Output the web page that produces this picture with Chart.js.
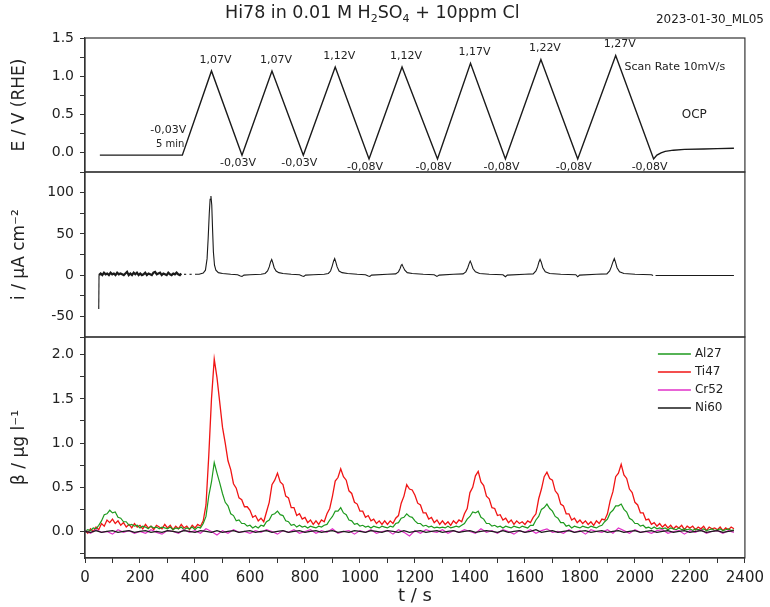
<!DOCTYPE html>
<html>
<head>
<meta charset="utf-8">
<title>Hi78 in 0.01 M H2SO4 + 10ppm Cl</title>
<script src="https://cdn.jsdelivr.net/npm/chart.js@4.4.1/dist/chart.umd.min.js"></script>
<style>
  html, body { margin: 0; padding: 0; background: #fff; }
  #wrap { position: relative; width: 770px; height: 607px; overflow: hidden; }
  #chart { position: absolute; left: 0; top: 0; }
  #title { position: absolute; left: 225px; top: 4px; font: 17.5px "DejaVu Sans", sans-serif; line-height: 1; white-space: nowrap; color: #222; }
  #title .sub { font-size: 11px; position: relative; top: 4px; }
  #stamp { position: absolute; right: 6px; top: 12px; font: 12px "DejaVu Sans", sans-serif; color: #222; white-space: nowrap; }
</style>
</head>
<body>
<div id="wrap">
  <canvas id="chart" width="770" height="607"></canvas>
  <div id="title">Hi78 in 0.01 M H<span class="sub">2</span>SO<span class="sub">4</span> + 10ppm Cl</div>
  <div id="stamp">2023-01-30_ML05</div>
</div>
<script>
//---------------------------------------------
// DATA
//---------------------------------------------
// potential programme, E / V (RHE)
const tE = [54, 354, 460, 571, 680, 794, 910, 1033, 1153, 1282, 1402, 1529, 1658, 1792, 1930, 2068,
            2080, 2095, 2110, 2140, 2180, 2250, 2300, 2360];
const potential = [-0.03, -0.03, 1.07, -0.03, 1.07, -0.03, 1.12, -0.08, 1.12, -0.08, 1.17, -0.08, 1.22, -0.08, 1.27, -0.08,
                   -0.03, 0.0, 0.02, 0.035, 0.045, 0.05, 0.055, 0.06];

// current density, i / uA cm-2 (null = gap in the record)
const tCur = [50, 51, 57, 63, 69, 75, 81, 87, 93, 99, 105, 111, 117, 123, 129, 135, 141, 147, 153, 159,
              165, 171, 177, 183, 189, 195, 201, 207, 213, 219, 225, 231, 237, 243, 249, 255, 261, 267, 273, 279,
              285, 291, 297, 303, 309, 315, 321, 327, 333, 339, 345, 350, 353,
              360, 368, 372, 380, 388, 392, 400, 415, 430, 438, 444, 448, 452, 455, 458, 461, 464, 467, 471, 476, 485,
              500, 530, 555, 565, 571, 578, 600, 640, 655, 664, 670, 675, 679, 683, 688, 695, 705, 720, 750, 780,
              790, 796, 802, 830, 870, 885, 893, 899, 904, 908, 912, 917, 924, 935, 955, 990, 1020, 1030, 1036, 1042,
              1100, 1130, 1140, 1146, 1150, 1153, 1157, 1163, 1172, 1190, 1230, 1270, 1280, 1288,
              1340, 1375, 1385, 1392, 1397, 1401, 1405, 1411, 1420, 1435, 1470, 1520, 1529, 1536,
              1600, 1630, 1640, 1646, 1651, 1655, 1659, 1665, 1674, 1690, 1730, 1785, 1792, 1799,
              1860, 1898, 1908, 1914, 1920, 1925, 1929, 1935, 1944, 1960, 2000, 2060, 2066, 2070, 2075, 2200, 2360];
const current = [-41, 0, 2, 0, 3, 1, 2, 0, 3, 1, 2, 0, 3, 1, 2, 1, 0, 2, 4, 0,
                 2, 0, 3, 1, 3, 0, 2, 0, 1, 3, 0, 2, 1, 0, 3, 4, 1, 2, 3, 0,
                 2, 1, 0, 3, 1, 0, 2, 1, 3, 1, 0, 2, null,
                 1, 1, null, 1, 1, null, 1, 1, 2.5, 6, 20, 45, 75, 92, 96, 85, 55, 28, 12, 6, 3,
                 2, 1, 0.5, -1, -1.5, 0, 0.5, 1, 2, 5, 10, 16, 19, 15, 9, 5, 3, 2, 1, 0.5,
                 -1, -1.5, 0, 0.5, 1, 2, 5, 11, 17, 20, 16, 10, 5, 3, 2, 1, 0.5, -1, -1.5, 0,
                 1, 1.5, 4, 8, 12, 13, 10, 6, 3, 2, 1, 0.5, -1.5, 0,
                 1, 1.5, 4, 9, 14, 17, 14, 8, 4, 2, 1, 0.5, -2, 0,
                 1, 1.5, 5, 10, 16, 19, 16, 9, 4, 2, 1, 0.5, -2, 0,
                 1, 1.5, 5, 10, 16, 20, 16, 9, 4, 2, 1, 0.5, -0.5, null, -0.5, -0.5, -0.5];

// ICP-MS concentrations, beta / ug l-1
const tIcp10 = [0, 10, 20, 30, 40, 50, 60, 70, 80, 90,
  100, 110, 120, 130, 140, 150, 160, 170, 180, 190,
  200, 210, 220, 230, 240, 250, 260, 270, 280, 290,
  300, 310, 320, 330, 340, 350, 360, 370, 380, 390,
  400, 410, 420, 430, 440, 450, 460, 470, 480, 490,
  500, 510, 520, 530, 540, 550, 560, 570, 580, 590,
  600, 610, 620, 630, 640, 650, 660, 670, 680, 690,
  700, 710, 720, 730, 740, 750, 760, 770, 780, 790,
  800, 810, 820, 830, 840, 850, 860, 870, 880, 890,
  900, 910, 920, 930, 940, 950, 960, 970, 980, 990,
  1000, 1010, 1020, 1030, 1040, 1050, 1060, 1070, 1080, 1090,
  1100, 1110, 1120, 1130, 1140, 1150, 1160, 1170, 1180, 1190,
  1200, 1210, 1220, 1230, 1240, 1250, 1260, 1270, 1280, 1290,
  1300, 1310, 1320, 1330, 1340, 1350, 1360, 1370, 1380, 1390,
  1400, 1410, 1420, 1430, 1440, 1450, 1460, 1470, 1480, 1490,
  1500, 1510, 1520, 1530, 1540, 1550, 1560, 1570, 1580, 1590,
  1600, 1610, 1620, 1630, 1640, 1650, 1660, 1670, 1680, 1690,
  1700, 1710, 1720, 1730, 1740, 1750, 1760, 1770, 1780, 1790,
  1800, 1810, 1820, 1830, 1840, 1850, 1860, 1870, 1880, 1890,
  1900, 1910, 1920, 1930, 1940, 1950, 1960, 1970, 1980, 1990,
  2000, 2010, 2020, 2030, 2040, 2050, 2060, 2070, 2080, 2090,
  2100, 2110, 2120, 2130, 2140, 2150, 2160, 2170, 2180, 2190,
  2200, 2210, 2220, 2230, 2240, 2250, 2260, 2270, 2280, 2290,
  2300, 2310, 2320, 2330, 2340, 2350, 2360];

const ti47 = [0.01, -0.02, 0.03, 0.0, 0.05, 0.02, 0.09, 0.06, 0.13, 0.1,
  0.14, 0.09, 0.12, 0.07, 0.1, 0.05, 0.08, 0.04, 0.09, 0.05,
  0.07, 0.03, 0.08, 0.04, 0.06, 0.02, 0.07, 0.05, 0.03, 0.08,
  0.04, 0.07, 0.02, 0.06, 0.03, 0.08, 0.04, 0.06, 0.02, 0.07,
  0.04, 0.08, 0.06, 0.12, 0.3, 0.85, 1.5, 1.95, 1.74, 1.46,
  1.18, 1.0, 0.8, 0.7, 0.54, 0.49, 0.38, 0.36, 0.28, 0.28,
  0.24, 0.16, 0.18, 0.12, 0.15, 0.11, 0.22, 0.33, 0.53, 0.58,
  0.66, 0.56, 0.53, 0.4, 0.38, 0.27, 0.27, 0.18, 0.2, 0.14,
  0.16, 0.1, 0.13, 0.08, 0.12, 0.08, 0.13, 0.11, 0.2, 0.26,
  0.4, 0.57, 0.61, 0.71, 0.62, 0.58, 0.46, 0.43, 0.33, 0.31,
  0.23, 0.23, 0.16, 0.18, 0.12, 0.14, 0.09, 0.12, 0.08, 0.12,
  0.08, 0.12, 0.09, 0.15, 0.18, 0.32, 0.4, 0.53, 0.48, 0.47,
  0.41, 0.32, 0.3, 0.21, 0.21, 0.14, 0.16, 0.1, 0.13, 0.08,
  0.12, 0.08, 0.11, 0.07, 0.12, 0.09, 0.13, 0.11, 0.2, 0.26,
  0.44, 0.5, 0.63, 0.68, 0.56, 0.52, 0.4, 0.37, 0.27, 0.26,
  0.18, 0.19, 0.13, 0.15, 0.1, 0.13, 0.08, 0.12, 0.09, 0.11,
  0.08, 0.12, 0.1, 0.16, 0.2, 0.37, 0.48, 0.62, 0.67, 0.6,
  0.58, 0.46, 0.42, 0.31, 0.29, 0.2, 0.2, 0.13, 0.15, 0.1,
  0.13, 0.09, 0.12, 0.08, 0.11, 0.07, 0.12, 0.09, 0.14, 0.13,
  0.2, 0.35, 0.45, 0.62, 0.66, 0.76, 0.64, 0.6, 0.48, 0.44,
  0.33, 0.3, 0.21, 0.21, 0.13, 0.14, 0.08, 0.1, 0.06, 0.09,
  0.05, 0.08, 0.04, 0.07, 0.03, 0.06, 0.04, 0.07, 0.02, 0.06,
  0.04, 0.06, 0.02, 0.05, 0.03, 0.06, 0.01, 0.05, 0.03, 0.04,
  0.02, 0.05, 0.01, 0.04, 0.02, 0.05, 0.03];

const al27 = [0.0, 0.02, 0.01, 0.04, 0.03, 0.07, 0.12, 0.19, 0.2, 0.24,
  0.21, 0.22, 0.16, 0.15, 0.11, 0.11, 0.07, 0.08, 0.06, 0.07,
  0.04, 0.06, 0.05, 0.03, 0.06, 0.04, 0.05, 0.03, 0.05, 0.04,
  0.03, 0.05, 0.02, 0.04, 0.03, 0.05, 0.02, 0.04, 0.03, 0.05,
  0.02, 0.05, 0.04, 0.09, 0.17, 0.4, 0.56, 0.78, 0.66, 0.55,
  0.43, 0.33, 0.29, 0.2, 0.18, 0.12, 0.13, 0.09, 0.09, 0.06,
  0.07, 0.04, 0.06, 0.04, 0.07, 0.06, 0.11, 0.13, 0.19, 0.2,
  0.23, 0.19, 0.18, 0.12, 0.11, 0.07, 0.08, 0.05, 0.07, 0.05,
  0.06, 0.04, 0.06, 0.05, 0.04, 0.06, 0.05, 0.07, 0.08, 0.13,
  0.17, 0.23, 0.23, 0.27, 0.21, 0.19, 0.13, 0.12, 0.08, 0.09,
  0.06, 0.07, 0.05, 0.06, 0.04, 0.06, 0.05, 0.04, 0.06, 0.05,
  0.04, 0.06, 0.05, 0.09, 0.1, 0.15, 0.16, 0.2, 0.17, 0.16,
  0.12, 0.09, 0.09, 0.06, 0.07, 0.05, 0.06, 0.04, 0.05, 0.04,
  0.05, 0.04, 0.06, 0.04, 0.05, 0.06, 0.05, 0.07, 0.09, 0.14,
  0.17, 0.22, 0.21, 0.23, 0.16, 0.14, 0.09, 0.09, 0.06, 0.07,
  0.05, 0.06, 0.04, 0.06, 0.05, 0.04, 0.06, 0.05, 0.04, 0.06,
  0.05, 0.04, 0.07, 0.07, 0.13, 0.17, 0.25, 0.27, 0.31, 0.26,
  0.23, 0.17, 0.15, 0.1, 0.1, 0.06, 0.07, 0.04, 0.06, 0.05,
  0.04, 0.06, 0.05, 0.04, 0.06, 0.05, 0.04, 0.06, 0.07, 0.11,
  0.14, 0.21, 0.24, 0.29, 0.29, 0.31, 0.25, 0.22, 0.15, 0.13,
  0.09, 0.09, 0.06, 0.07, 0.04, 0.05, 0.03, 0.05, 0.03, 0.04,
  0.03, 0.04, 0.02, 0.04, 0.03, 0.02, 0.04, 0.02, 0.03, 0.02,
  0.03, 0.01, 0.03, 0.02, 0.02, 0.03, 0.01, 0.02, 0.03, 0.01,
  0.02, 0.03, 0.01, 0.02, 0.03, 0.01, 0.02];

const tIcp20 = [0, 20, 40, 60, 80, 100, 120, 140, 160, 180,
  200, 220, 240, 260, 280, 300, 320, 340, 360, 380,
  400, 420, 440, 460, 480, 500, 520, 540, 560, 580,
  600, 620, 640, 660, 680, 700, 720, 740, 760, 780,
  800, 820, 840, 860, 880, 900, 920, 940, 960, 980,
  1000, 1020, 1040, 1060, 1080, 1100, 1120, 1140, 1160, 1180,
  1200, 1220, 1240, 1260, 1280, 1300, 1320, 1340, 1360, 1380,
  1400, 1420, 1440, 1460, 1480, 1500, 1520, 1540, 1560, 1580,
  1600, 1620, 1640, 1660, 1680, 1700, 1720, 1740, 1760, 1780,
  1800, 1820, 1840, 1860, 1880, 1900, 1920, 1940, 1960, 1980,
  2000, 2020, 2040, 2060, 2080, 2100, 2120, 2140, 2160, 2180,
  2200, 2220, 2240, 2260, 2280, 2300, 2320, 2340, 2360];

const cr52 = [0.01, -0.02, 0.02, -0.01, 0.0, -0.03, 0.02, -0.01, 0.01, -0.02,
  0.0, -0.02, 0.02, -0.01, -0.03, 0.01, 0.0, -0.02, 0.02, -0.01,
  0.01, -0.02, 0.03, 0.0, -0.04, 0.01, -0.02, 0.02, -0.01, 0.0,
  -0.02, 0.01, -0.01, 0.02, 0.0, -0.03, 0.01, -0.01, 0.02, -0.02,
  0.0, 0.02, -0.02, 0.01, -0.01, 0.03, -0.02, 0.0, 0.01, -0.03,
  0.01, -0.01, 0.02, -0.02, 0.0, 0.01, -0.03, 0.02, -0.01, -0.05,
  0.01, -0.02, 0.02, 0.0, -0.01, 0.02, -0.02, 0.01, -0.01, 0.02,
  0.0, -0.02, 0.03, -0.01, 0.01, -0.02, 0.02, 0.0, -0.03, 0.01,
  -0.01, 0.02, -0.02, 0.01, 0.03, -0.01, 0.0, -0.02, 0.02, -0.01,
  0.01, -0.03, 0.02, 0.0, -0.01, 0.02, -0.02, 0.04, 0.01, -0.02,
  0.02, -0.01, 0.0, -0.02, 0.01, 0.02, -0.02, 0.0, 0.01, -0.03,
  0.01, -0.01, 0.02, -0.02, 0.0, 0.01, -0.02, 0.01, -0.01];

const ni60 = [0.0, -0.01, 0.01, -0.01, 0.0, 0.01, -0.01, 0.0, 0.01, -0.01,
  0.0, 0.01, -0.01, 0.0, -0.01, 0.01, 0.0, -0.01, 0.01, 0.0,
  -0.01, 0.01, 0.0, -0.01, 0.01, -0.01, 0.0, 0.01, -0.01, 0.0,
  0.01, -0.01, 0.0, 0.01, -0.01, 0.0, 0.01, -0.01, 0.0, 0.01,
  -0.01, 0.0, 0.01, -0.01, 0.0, 0.01, -0.01, 0.0, -0.01, 0.01,
  0.0, -0.01, 0.01, 0.0, -0.01, 0.01, 0.0, -0.01, 0.01, -0.01,
  0.0, 0.01, -0.01, 0.0, 0.01, -0.01, 0.0, 0.01, -0.01, 0.0,
  0.01, -0.01, 0.0, 0.01, 0.0, -0.01, 0.01, -0.01, 0.0, 0.01,
  -0.01, 0.0, 0.02, -0.01, 0.0, 0.01, -0.01, 0.0, 0.01, -0.01,
  0.0, 0.01, -0.01, 0.0, 0.01, -0.01, 0.0, 0.01, -0.01, 0.0,
  0.01, -0.01, 0.0, 0.01, -0.01, 0.0, 0.01, -0.01, 0.0, 0.01,
  -0.01, 0.0, 0.01, -0.01, 0.0, 0.01, -0.01, 0.0, 0.01];

// axis ticks (labels only on the major ones)
const xTicks = [0, 100, 200, 300, 400, 500, 600, 700, 800, 900, 1000, 1100, 1200, 1300, 1400, 1500,
                1600, 1700, 1800, 1900, 2000, 2100, 2200, 2300, 2400];
const eTicks = [-0.25, 0, 0.25, 0.5, 0.75, 1.0, 1.25, 1.5];
const iTicks = [-75, -50, -25, 0, 25, 50, 75, 100, 125];
const betaTicks = [-0.25, 0, 0.25, 0.5, 0.75, 1.0, 1.25, 1.5, 1.75, 2.0];

// text notes in the potential panel (data coordinates)
const scanRateNote = { t: 1962, E: 1.12, text: "Scan Rate 10mV/s" };
const ocpNote = { t: 2216, E: 0.49, text: "OCP" };
const holdNote = ["5 min"];

const icpLegend = ["Al27", "Ti47", "Cr52", "Ni60"];

//---------------------------------------------
// HELPERS
//---------------------------------------------
const FONT = "'DejaVu Sans', 'Liberation Sans', sans-serif";
const pts = (ts, vs) => ts.map((t, i) => ({ x: t, y: vs[i] }));
const onStep = (v, step) => Math.abs(Math.round(v / step) * step - v) < 1e-6;

function fmtVolt(v) {
    return v.toFixed(2).replace(".", ",") + "V";
}

//---------------------------------------------
// PLUGINS: panel frames, potential notes, legend
//---------------------------------------------
const panelFrames = {
    id: "panelFrames",
    afterDraw(chart) {
        const { ctx, chartArea } = chart;
        ctx.save();
        ctx.strokeStyle = "#333";
        ctx.lineWidth = 1.2;
        ["yE", "yI", "yBeta"].forEach(id => {
            const s = chart.scales[id];
            ctx.strokeRect(chartArea.left, s.top, chartArea.right - chartArea.left, s.bottom - s.top);
        });
        ctx.restore();
    }
};

const potentialNotes = {
    id: "potentialNotes",
    afterDatasetsDraw(chart) {
        const ctx = chart.ctx, x = chart.scales.x, y = chart.scales.yE;
        ctx.save();
        ctx.fillStyle = "#222";
        ctx.font = "11px " + FONT;
        ctx.textBaseline = "middle";

        // hold at start of the ramp
        const px0 = x.getPixelForValue(tE[1]), py0 = y.getPixelForValue(potential[1]);
        ctx.textAlign = "right";
        ctx.fillText(fmtVolt(potential[1]), px0 + 4, py0 - 25);
        ctx.font = "10px " + FONT;
        ctx.fillText(holdNote[0], px0 + 2, py0 - 11);
        ctx.font = "11px " + FONT;

        // turning points of the triangle sweeps
        ctx.textAlign = "center";
        for (let k = 2; k <= 15; k++) {
            const px = x.getPixelForValue(tE[k]), py = y.getPixelForValue(potential[k]);
            if (k % 2 === 0) ctx.fillText(fmtVolt(potential[k]), px + 4, py - 11);
            else ctx.fillText(fmtVolt(potential[k]), px - 4, py + 8);
        }

        ctx.textAlign = "left";
        ctx.fillText(scanRateNote.text, x.getPixelForValue(scanRateNote.t), y.getPixelForValue(scanRateNote.E));
        ctx.font = "12px " + FONT;
        ctx.textAlign = "center";
        ctx.fillText(ocpNote.text, x.getPixelForValue(ocpNote.t), y.getPixelForValue(ocpNote.E));
        ctx.restore();
    }
};

const icpLegendBox = {
    id: "icpLegendBox",
    afterDraw(chart) {
        const ctx = chart.ctx, area = chart.chartArea, s = chart.scales.yBeta;
        ctx.save();
        ctx.font = "12px " + FONT;
        ctx.textBaseline = "middle";
        ctx.textAlign = "left";
        icpLegend.forEach((name, i) => {
            const ds = chart.data.datasets.find(d => d.label === name);
            const yy = s.top + 17 + i * 18;
            ctx.strokeStyle = ds.borderColor;
            ctx.lineWidth = 1.5;
            ctx.beginPath();
            ctx.moveTo(area.right - 87, yy);
            ctx.lineTo(area.right - 54, yy);
            ctx.stroke();
            ctx.fillStyle = "#222";
            ctx.fillText(name, area.right - 50, yy);
        });
        ctx.restore();
    }
};

//---------------------------------------------
// AXES
//---------------------------------------------
function leftAxis(title, min, max, tickList, labelStep, stackWeight, decimals) {
    return {
        type: "linear", position: "left", stack: "panels", stackWeight,
        min, max, offset: false,
        afterFit(s) { s.width = 85; },
        afterBuildTicks(s) { s.ticks = tickList.map(v => ({ value: v })); },
        ticks: {
            autoSkip: false, padding: 6, color: "#222",
            font: { size: 14, family: FONT },
            callback: v => onStep(v, labelStep) ? v.toFixed(decimals) : ""
        },
        grid: { drawOnChartArea: false, tickLength: 5, color: "#333", lineWidth: 1 },
        border: { color: "#333", width: 1.2 },
        title: { display: true, text: title, color: "#222", font: { size: 17, family: FONT }, padding: { top: 9, bottom: 0 } }
    };
}

//---------------------------------------------
// CHART
//---------------------------------------------
Chart.defaults.font.family = FONT;

new Chart(document.getElementById("chart"), {
    type: "line",
    data: {
        datasets: [
            { label: "E", data: pts(tE, potential), yAxisID: "yE", borderColor: "#1a1a1a", borderWidth: 1.4, order: 0 },
            { label: "i", data: pts(tCur, current), yAxisID: "yI", borderColor: "#1a1a1a", borderWidth: 1.1, order: 0,
              // the noisy hold before the sweeps reads as a thick band
              segment: { borderWidth: c => (c.p0.parsed.x > 50 && c.p1.parsed.x <= 350 ? 2.2 : 1.1) } },
            { label: "Al27", data: pts(tIcp10, al27), yAxisID: "yBeta", borderColor: "#1e9a1e", borderWidth: 1.2, order: 2 },
            { label: "Ti47", data: pts(tIcp10, ti47), yAxisID: "yBeta", borderColor: "#f01414", borderWidth: 1.3, order: 3 },
            { label: "Cr52", data: pts(tIcp20, cr52), yAxisID: "yBeta", borderColor: "#e030c8", borderWidth: 1.2, order: 1 },
            { label: "Ni60", data: pts(tIcp20, ni60), yAxisID: "yBeta", borderColor: "#1a1a1a", borderWidth: 1.3, order: 0 }
        ]
    },
    options: {
        responsive: false,
        animation: false,
        devicePixelRatio: 1,
        layout: { padding: { left: 0, right: 21, top: 38, bottom: 0 } },
        elements: { point: { radius: 0 }, line: { tension: 0 } },
        plugins: { legend: { display: false }, tooltip: { enabled: false }, title: { display: false } },
        scales: {
            x: {
                type: "linear", position: "bottom", min: 0, max: 2400,
                afterFit(s) { s.height = 49; },
                afterBuildTicks(s) { s.ticks = xTicks.map(v => ({ value: v })); },
                ticks: {
                    autoSkip: false, maxRotation: 0, padding: 6, color: "#222",
                    font: { size: 15, family: FONT },
                    callback: v => onStep(v, 200) ? String(v) : ""
                },
                grid: { drawOnChartArea: false, tickLength: 5, color: "#333" },
                border: { color: "#333", width: 1.2 },
                title: { display: true, text: "t / s", color: "#222", font: { size: 18, family: FONT }, padding: { top: 0, bottom: 0 } }
            },
            yBeta: leftAxis("β / μg l⁻¹", -0.3, 2.2, betaTicks, 0.5, 221, 1),
            yI: leftAxis("i / μA cm⁻²", -75, 125, iTicks, 50, 165, 0),
            yE: leftAxis("E / V (RHE)", -0.25, 1.5, eTicks, 0.5, 134, 1)
        }
    },
    plugins: [panelFrames, potentialNotes, icpLegendBox]
});
</script>
</body>
</html>
